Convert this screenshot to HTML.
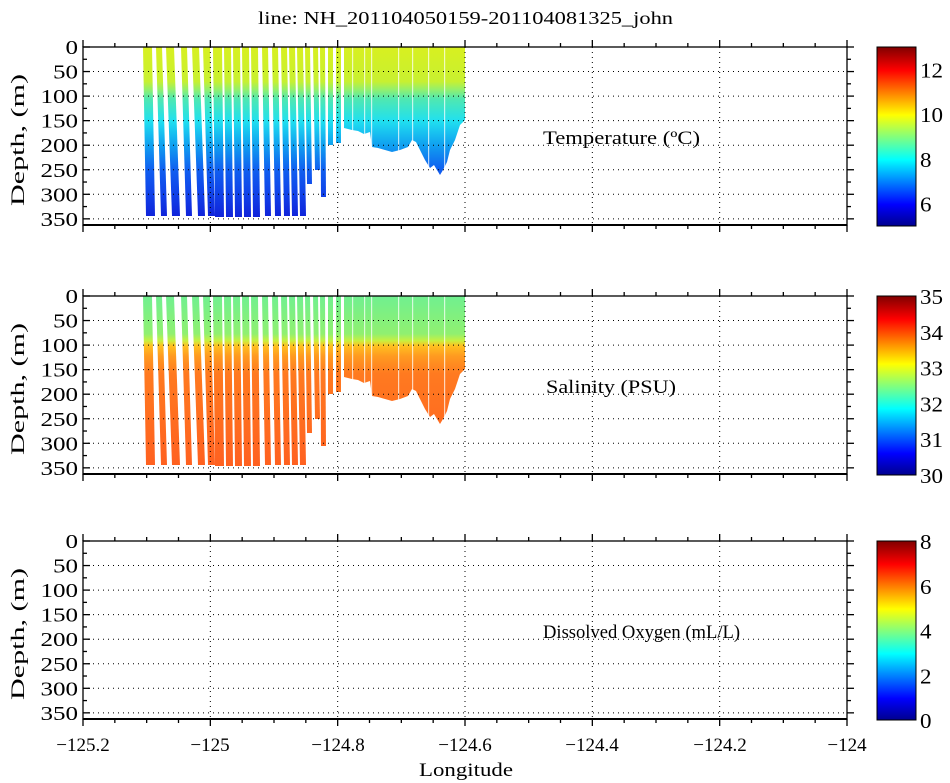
<!DOCTYPE html>
<html><head><meta charset="utf-8"><style>
body{margin:0;background:#fff}
svg{display:block;font-family:"Liberation Serif",serif}
</style></head><body>
<svg id="s" width="950" height="783" viewBox="0 0 950 783" xmlns="http://www.w3.org/2000/svg">
<defs>
<linearGradient id="jet" x1="0" y1="1" x2="0" y2="0">
<stop offset="0" stop-color="#00008f"/><stop offset="0.12" stop-color="#0000ff"/>
<stop offset="0.37" stop-color="#00ffff"/><stop offset="0.62" stop-color="#ffff00"/>
<stop offset="0.87" stop-color="#ff0000"/><stop offset="1" stop-color="#800000"/>
</linearGradient>
<linearGradient id="tg" gradientUnits="userSpaceOnUse" x1="0" y1="47" x2="0" y2="219">
<stop offset="0" stop-color="#d8f020"/><stop offset="0.2" stop-color="#c8f030"/>
<stop offset="0.25" stop-color="#90f070"/><stop offset="0.3" stop-color="#50e8b0"/>
<stop offset="0.43" stop-color="#20e0f0"/><stop offset="0.57" stop-color="#10a0f0"/>
<stop offset="0.71" stop-color="#1060f0"/><stop offset="0.86" stop-color="#1040e8"/>
<stop offset="1" stop-color="#1020d8"/>
</linearGradient>
<linearGradient id="sg" gradientUnits="userSpaceOnUse" x1="0" y1="296" x2="0" y2="468">
<stop offset="0" stop-color="#70f090"/><stop offset="0.22" stop-color="#90f070"/>
<stop offset="0.26" stop-color="#c8f040"/><stop offset="0.29" stop-color="#ffc020"/>
<stop offset="0.35" stop-color="#ff9a20"/><stop offset="0.45" stop-color="#ff7a20"/>
<stop offset="1" stop-color="#ff6020"/>
</linearGradient>
</defs>
<text x="258" y="24" font-size="18" textLength="415" lengthAdjust="spacingAndGlyphs">line: NH_201104050159-201104081325_john</text>
<g font-size="19" text-anchor="middle">
<text x="83" y="751">−125.2</text>
<text x="210" y="751">−125</text>
<text x="338" y="751">−124.8</text>
<text x="465" y="751">−124.6</text>
<text x="592" y="751">−124.4</text>
<text x="720" y="751">−124.2</text>
<text x="847" y="751">−124</text>
</g>
<text x="419" y="776" font-size="19" textLength="94" lengthAdjust="spacingAndGlyphs">Longitude</text>
<g id="g"></g>
</svg>
<script>
const g=document.getElementById('g');let h='';
const L=83,R=847;
const casts=[[143,9,216,3],[156,6,216,5],[166,8,216,6],[181,6,216,5],[192,7,216,6],[203,7,216,5],
[213,9,217,2],[224,7,217,2],[233,7,217,2],[242,7,217,2],[251,7,217,2],[262,6,216,3],[272,6,216,3],
[281,6,216,3],[289,6,216,3],[297,6,216,3],[305,5,184,2],[313,5,170,2],[320,5,197,1],[328,5,145,0],[336,5,143,0]];
function data(off,fill){
  let s='';
  for(const c of casts){const [x,w,b,sl]=c;
    s+=`<polygon points="${x},${47+off} ${x+w},${47+off} ${x+w+sl},${b+off} ${x+sl},${b+off}" fill="${fill}"/>`;}
  const pts=[[344,47],[465,47],[465,120],[460,125],[455,140],[450,150],[447,162],[443,170],[440,175],[437,170],[434,165],[430,168],[425,160],[420,150],[416,142],[412,140],[408,147],[400,150],[392,152],[385,150],[378,148],[372,147],[370,132],[364,134],[358,131],[352,130],[344,128]];
  s+=`<polygon points="${pts.map(p=>p[0]+','+(p[1]+off)).join(' ')}" fill="${fill}"/>`;
  for(const gx of [352,364,371,398,412,428,444]) s+=`<rect x="${gx}" y="${47+off}" width="1.2" height="${150}" fill="#fff" opacity="0.7"/>`;
  return s;
}
const panels=[{off:0,fill:'url(#tg)',lab:'Temperature (ºC)',lx:543,lw:157,cb:[5,13,[6,8,10,12]]},
{off:249,fill:'url(#sg)',lab:'Salinity (PSU)',lx:546,lw:130,cb:[30,35,[30,31,32,33,34,35]]},
{off:494,fill:null,lab:'Dissolved Oxygen (mL/L)',lx:543,lw:197,cb:[0,8,[0,2,4,6,8]]}];
for(const p of panels){
  const T=47+p.off,B=225+p.off,Y=d=>T+d*0.491;
  if(p.fill) h+=data(p.off,p.fill);
  for(let i=1;i<6;i++){const x=L+i*(R-L)/6; h+=`<line x1="${x}" y1="${T}" x2="${x}" y2="${B}" stroke="#000" stroke-dasharray="1,4"/>`;}
  for(let d=50;d<=350;d+=50) h+=`<line x1="${L}" y1="${Y(d)}" x2="${R}" y2="${Y(d)}" stroke="#000" stroke-dasharray="1,4"/>`;
  h+=`<rect x="${L}" y="${T}" width="${R-L}" height="${B-T}" fill="none" stroke="#000" stroke-width="1.3"/>`;
  h+=`<line x1="${L}" y1="${B}" x2="${R}" y2="${B}" stroke="#000" stroke-width="2"/>`;
  for(let i=0;i<=24;i++){const x=L+i*(R-L)/24,len=i%4==0?7:4;
    h+=`<line x1="${x}" y1="${T}" x2="${x}" y2="${T-len}" stroke="#000" stroke-width="1.3"/><line x1="${x}" y1="${B}" x2="${x}" y2="${B+len}" stroke="#000" stroke-width="1.3"/>`;}
  for(let d=0;d<=350;d+=25){const y=Y(d),len=d%50==0?7:4;
    h+=`<line x1="${L}" y1="${y}" x2="${L+len}" y2="${y}" stroke="#000" stroke-width="1.3"/><line x1="${R}" y1="${y}" x2="${R+len}" y2="${y}" stroke="#000" stroke-width="1.3"/>`;
    if(d%50==0){const s=String(d);const w=s.length*12.5;
      h+=`<text x="${78-w}" y="${y+7}" font-size="20" textLength="${w}" lengthAdjust="spacingAndGlyphs">${d}</text>`;}}
  h+=`<text transform="translate(24,${(T+B)/2+4}) rotate(-90)" x="-66" font-size="19" textLength="132" lengthAdjust="spacingAndGlyphs">Depth, (m)</text>`;
  h+=`<text x="${p.lx}" y="${T+97}" font-size="19" textLength="${p.lw}" lengthAdjust="spacingAndGlyphs">${p.lab}</text>`;
  const cT=T,cB=B+1;
  h+=`<rect x="877" y="${cT}" width="39" height="${cB-cT}" fill="url(#jet)" stroke="#000"/>`;
  const [mn,mx,tk]=p.cb;
  for(const t of tk){const y=cB-(t-mn)/(mx-mn)*(cB-cT);const w=String(t).length*11.5;
    h+=`<text x="920" y="${y+8}" font-size="21" textLength="${w}" lengthAdjust="spacingAndGlyphs">${t}</text>`;}
}
g.innerHTML=h;
</script>
</body></html>
